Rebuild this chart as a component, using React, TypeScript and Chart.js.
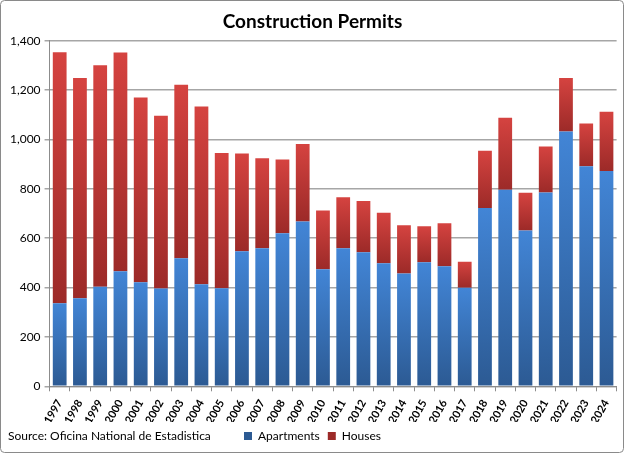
import React, { useEffect, useRef } from "react";
import { Chart, registerables } from "chart.js";

Chart.register(...registerables);

const years = ["1997","1998","1999","2000","2001","2002","2003","2004","2005","2006","2007","2008","2009","2010","2011","2012","2013","2014","2015","2016","2017","2018","2019","2020","2021","2022","2023","2024"];
const apartments = [337,357,403,466,422,396,519,414,397,547,559,620,668,474,559,543,499,457,503,486,399,722,796,631,785,1032,892,872];
const houses = [1017,892,898,887,748,700,703,720,548,396,365,299,314,238,207,208,204,196,146,175,106,232,292,153,187,217,173,240];
const titleText = "Construction Permits";
const sourceText = "Source: Oficina National de Estadistica";
const FONT = "Lato, 'Open Sans', sans-serif";

function gradientFill(top: string, bottom: string, flat: string, series: number) {
  return (ctx: any) => {
    const chart = ctx.chart;
    const y = chart.scales && chart.scales.y;
    if (ctx.type !== "data" || !y || !chart.chartArea) return flat;
    const i = ctx.dataIndex;
    const lo = series === 0 ? 0 : apartments[i];
    const hi = series === 0 ? apartments[i] : apartments[i] + houses[i];
    const y0 = y.getPixelForValue(hi);
    const y1 = y.getPixelForValue(lo);
    if (!isFinite(y0) || !isFinite(y1) || y0 === y1) return flat;
    const g = chart.ctx.createLinearGradient(0, y0, 0, y1);
    g.addColorStop(0, top);
    g.addColorStop(1, bottom);
    return g;
  };
}

const extras = {
  id: "extras",
  afterDraw(chart: any) {
    const c = chart.ctx;
    c.save();
    c.font = `12px ${FONT}`;
    c.fillStyle = "#000";
    c.textBaseline = "middle";
    c.textAlign = "left";
    c.fillText(sourceText, 8, 436);
    c.strokeStyle = "#8a8a8a";
    c.lineWidth = 1;
    const w = chart.width, h = chart.height;
    c.beginPath();
    if ((c as any).roundRect) (c as any).roundRect(0.5, 0.5, w - 1, h - 1, 4);
    else c.rect(0.5, 0.5, w - 1, h - 1);
    c.stroke();
    c.restore();
  },
};

export default function App() {
  const ref = useRef<HTMLCanvasElement>(null);
  useEffect(() => {
    if (!ref.current) return;
    const chart = new Chart(ref.current, {
      type: "bar",
      data: {
        labels: years,
        datasets: [
          {
            label: "Apartments",
            data: apartments,
            backgroundColor: gradientFill("#4285d6", "#2c5a93", "#3a6fb5", 0),
            borderWidth: 0,
            barPercentage: 0.68,
            categoryPercentage: 1,
          },
          {
            label: "Houses",
            data: houses,
            backgroundColor: gradientFill("#d54340", "#9c2a28", "#c03533", 1),
            borderWidth: 0,
            barPercentage: 0.68,
            categoryPercentage: 1,
          },
        ],
      },
      options: {
        animation: false,
        responsive: false,
        maintainAspectRatio: false,
        devicePixelRatio: 1,
        layout: { padding: { left: 6, right: 5, top: 6, bottom: 1 } },
        plugins: {
          title: {
            display: true,
            text: titleText,
            color: "#000",
            font: { family: FONT, size: 19, weight: "bold" },
            padding: { top: 4, bottom: 8 },
          },
          legend: {
            position: "bottom",
            labels: {
              boxWidth: 8,
              boxHeight: 8,
              color: "#000",
              font: { family: FONT, size: 12 },
              padding: 8,
            },
          },
          tooltip: { enabled: false },
        },
        scales: {
          x: {
            stacked: true,
            afterFit: (s: any) => {
              s.height = s.height - 10;
            },
            grid: {
              display: true,
              drawOnChartArea: false,
              drawTicks: true,
              tickLength: 5,
              offset: true,
              color: "#8c8c8c",
            },
            border: { display: true, color: "#8c8c8c", width: 1 },
            ticks: {
              color: "#000",
              font: { family: FONT, size: 11, weight: "bold" },
              minRotation: 60,
              maxRotation: 60,
              autoSkip: false,
              padding: 6,
            },
          },
          y: {
            stacked: true,
            min: 0,
            max: 1400,
            ticks: {
              stepSize: 200,
              color: "#000",
              font: { family: FONT, size: 12 },
              padding: 4,
            },
            grid: {
              color: "#a6a6a6",
              lineWidth: 1.5,
              tickLength: 5,
            },
            border: { display: true, color: "#8c8c8c", width: 1 },
          },
        },
      },
      plugins: [extras],
    });
    return () => chart.destroy();
  }, []);
  return (
    <div style={{ position: "fixed", left: 0, top: 0, width: 624, height: 453, background: "#fff" }}>
      <canvas ref={ref} width={624} height={453} style={{ width: 624, height: 453, display: "block" }} />
    </div>
  );
}
